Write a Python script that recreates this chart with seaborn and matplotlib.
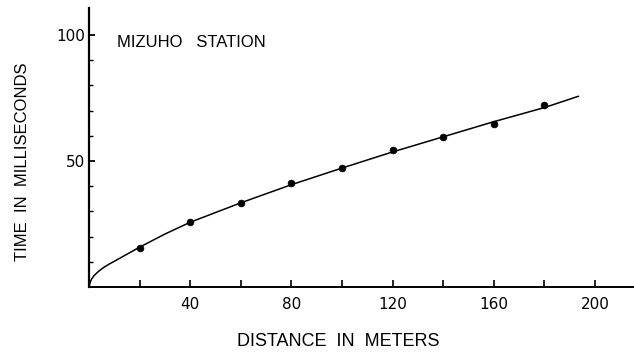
import matplotlib
matplotlib.use("Agg")
import matplotlib.pyplot as plt
import seaborn as sns
import pandas as pd
from matplotlib.ticker import FixedLocator

sns.set_style("ticks")
plt.rcParams['font.family'] = ['Liberation Sans', 'DejaVu Sans']
plt.rcParams.update({
    'text.color': 'black', 'axes.labelcolor': 'black',
    'xtick.color': 'black', 'ytick.color': 'black', 'axes.edgecolor': 'black',
})

# observed travel times
distance_m = [20, 40, 60, 80, 100, 120, 140, 160, 180]
time_ms = [15.6, 25.9, 33.5, 41.1, 47.3, 54.2, 59.6, 64.8, 72.3]

# fitted curve
curve_x = [0, 0.5, 1, 2, 3, 4, 6, 8, 10, 15, 20, 30, 40, 60, 80, 100, 120, 140, 160, 180, 193.5]
curve_y = [0, 2.0, 3.1, 4.5, 5.5, 6.4, 7.9, 9.1, 10.2, 13.0, 15.8, 21.0, 25.7, 33.4, 40.6, 47.2, 53.6, 59.6, 65.6, 71.2, 75.7]

x_major = [40, 80, 120, 160, 200]
x_minor = [20, 60, 100, 140, 180]
y_major = [50, 100]
y_minor = [10, 20, 30, 40, 60, 70, 80, 90]

obs = pd.DataFrame({"d": distance_m, "t": time_ms})
fit = pd.DataFrame({"d": curve_x, "t": curve_y})

fig = plt.figure(figsize=(6.34, 3.53), dpi=100)
ax = fig.add_axes([89/634, 66/353, 545/634, 279/353])

sns.lineplot(data=fit, x="d", y="t", ax=ax, color="black", linewidth=1.1, sort=False)
sns.scatterplot(data=obs, x="d", y="t", ax=ax, color="black", s=24, edgecolor="black", linewidth=0.5, zorder=3)

ax.set_xlim(0, 545/2.53)
ax.set_ylim(0, 279/2.52)

sns.despine(ax=ax)
ax.spines['left'].set_linewidth(1.6)
ax.spines['bottom'].set_linewidth(1.4)

ax.xaxis.set_major_locator(FixedLocator(x_major))
ax.xaxis.set_minor_locator(FixedLocator(x_minor))
ax.yaxis.set_major_locator(FixedLocator(y_major))
ax.yaxis.set_minor_locator(FixedLocator(y_minor))
ax.tick_params(axis='x', which='both', direction='in', length=5, width=1.2, labelsize=11, pad=7)
ax.tick_params(axis='y', which='major', direction='in', length=4, width=1.3, labelsize=11, pad=3)
ax.tick_params(axis='y', which='minor', direction='in', length=3, width=1.0)
for lbl in ax.get_xticklabels() + ax.get_yticklabels():
    lbl.set_fontfamily(['DejaVu Sans'])

ax.set_xlabel("DISTANCE  IN  METERS", fontsize=13)
ax.set_ylabel("TIME  IN  MILLISECONDS", fontsize=12)
ax.xaxis.set_label_coords(0.458, -0.165)
ax.yaxis.set_label_coords(-0.108, 0.45)
ax.text(0.052, 0.875, "MIZUHO   STATION", transform=ax.transAxes, fontsize=12, va='center', ha='left', color='black')

fig.savefig("out.png", dpi=100)
